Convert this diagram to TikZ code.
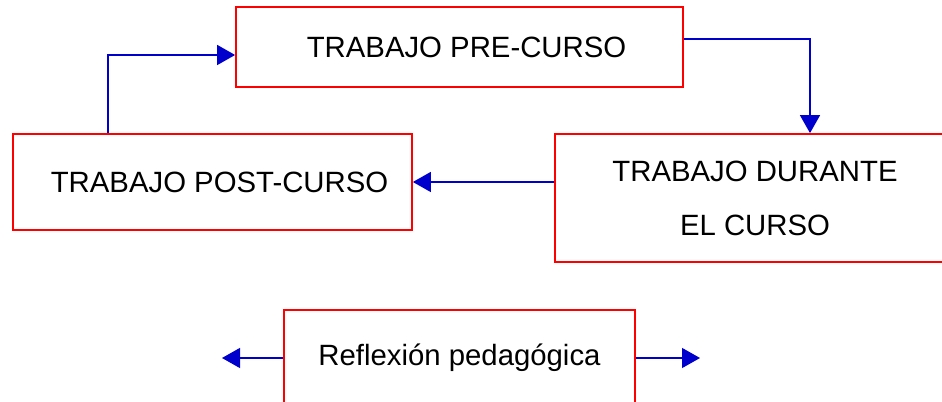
\documentclass[tikz,border=0pt]{standalone}
\usepackage{fontspec}
\setmainfont{Liberation Sans}
\usetikzlibrary{arrows.meta}
\definecolor{rojo}{RGB}{255,0,0}
\definecolor{azul}{RGB}{0,0,204}
\begin{document}
\begin{tikzpicture}[x=0.75pt,y=-0.75pt,line join=miter,
	caja/.style={draw=rojo,line width=1.3pt,rectangle,inner sep=0pt,
		font=\fontsize{22}{40.5}\selectfont},
	flecha/.style={draw=azul,line width=1pt,-{Triangle[length=13.5pt,width=15pt]},
		color=azul}]
		\def\px{0.75pt} % un pixel
		\useasboundingbox (0,0) rectangle (942,402);
		\node[caja,minimum width=447*\px,minimum height=80*\px] (pre) at (459.5,47) {\hspace{10.5pt}TRABAJO PRE-CURSO};
		\node[caja,minimum width=399*\px,minimum height=96*\px] (post) at (212.5,182) {\hspace{10.5pt}TRABAJO POST-CURSO};
		\node[caja,minimum width=400*\px,minimum height=128*\px,align=center] (durante) at (755,198) {TRABAJO DURANTE\\EL CURSO};
		\node[caja,minimum width=351*\px,minimum height=96*\px] (refl) at (459.5,358) {Reflexi\'on pedag\'ogica};
		\coordinate (izq) at (222,358);
		\coordinate (der) at (700,358);
		\draw[flecha] (pre.east |- 0,39) -| (durante.north -| 810,0);
		\draw[flecha] (durante.west |- 0,182) -- (post.east);
		\draw[flecha] (post.north -| 108,0) |- (pre.west |- 0,55);
		\draw[flecha] (refl.west) -- (izq);
		\draw[flecha] (refl.east) -- (der);
\end{tikzpicture}
\end{document}
